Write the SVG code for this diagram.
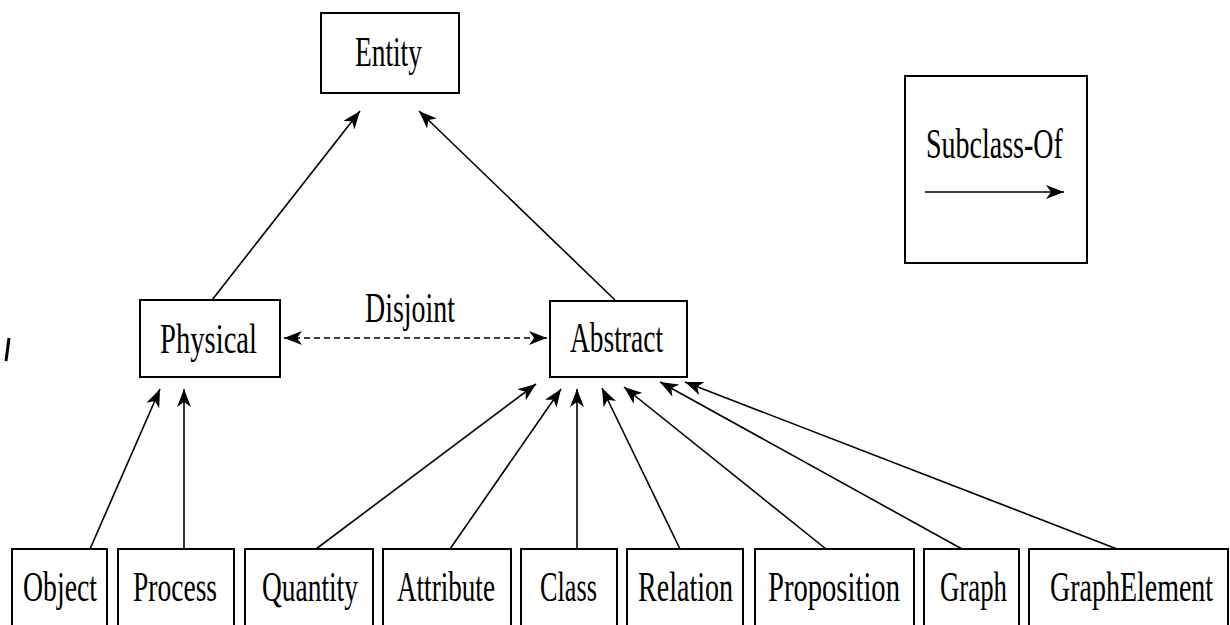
<svg xmlns="http://www.w3.org/2000/svg" width="1230" height="625" viewBox="0 0 1230 625">
  <style>
    .box { fill: #ffffff; stroke: #000000; stroke-width: 2; }
    .lbl { font-family: "Liberation Serif", "Times New Roman", serif; font-size: 42px; fill: #000000; }
    .edge { fill: none; stroke: #000000; stroke-width: 1.6; }
    .dash { stroke-dasharray: 6 4; }
  </style>
  <defs>
    <marker id="head" viewBox="0 0 18 14" refX="18" refY="7" markerWidth="18" markerHeight="14" markerUnits="userSpaceOnUse" orient="auto-start-reverse">
      <path d="M0,0 L18,7 L0,14 L5,7 Z" fill="#000000"/>
    </marker>
  </defs>
  <rect width="1230" height="625" fill="#ffffff"/>

  <!-- subclass and disjointness links -->
  <g id="connectors">
    <path class="edge" d="M212,300 L360,111" marker-end="url(#head)"/>
    <path class="edge" d="M615,300 L419,111" marker-end="url(#head)"/>
    <path class="edge dash" d="M284,338 L547,338" marker-start="url(#head)" marker-end="url(#head)"/>
    <path class="edge" d="M90,549 L160,389" marker-end="url(#head)"/>
    <path class="edge" d="M184,549 L184,389" marker-end="url(#head)"/>
    <path class="edge" d="M316,549 L536,384" marker-end="url(#head)"/>
    <path class="edge" d="M450,549 L561,389" marker-end="url(#head)"/>
    <path class="edge" d="M577,549 L577,389" marker-end="url(#head)"/>
    <path class="edge" d="M680,549 L602,388" marker-end="url(#head)"/>
    <path class="edge" d="M826,549 L624,387" marker-end="url(#head)"/>
    <path class="edge" d="M962,549 L660,382" marker-end="url(#head)"/>
    <path class="edge" d="M1117,549 L685,382" marker-end="url(#head)"/>
    <text class="lbl" transform="translate(365,322) scale(0.665,1)">Disjoint</text>
  </g>

  <g id="entity">
    <rect class="box" x="321" y="13" width="138" height="80"/>
    <text class="lbl" transform="translate(355,66) scale(0.652,1)">Entity</text>
  </g>
  <g id="physical">
    <rect class="box" x="140" y="300" width="140" height="77"/>
    <text class="lbl" transform="translate(160,353) scale(0.682,1)">Physical</text>
  </g>
  <g id="abstract">
    <rect class="box" x="550" y="301" width="137" height="76"/>
    <text class="lbl" transform="translate(570,352) scale(0.654,1)">Abstract</text>
  </g>

  <g id="object">
    <rect class="box" x="12" y="549" width="95" height="90"/>
    <text class="lbl" transform="translate(23,601) scale(0.661,1)">Object</text>
  </g>
  <g id="process">
    <rect class="box" x="118" y="549" width="116" height="90"/>
    <text class="lbl" transform="translate(133,601) scale(0.655,1)">Process</text>
  </g>
  <g id="quantity">
    <rect class="box" x="245" y="549" width="128" height="90"/>
    <text class="lbl" transform="translate(262,601) scale(0.653,1)">Quantity</text>
  </g>
  <g id="attribute">
    <rect class="box" x="383" y="549" width="128" height="90"/>
    <text class="lbl" transform="translate(397,601) scale(0.646,1)">Attribute</text>
  </g>
  <g id="class">
    <rect class="box" x="521" y="549" width="96" height="90"/>
    <text class="lbl" transform="translate(540,601) scale(0.626,1)">Class</text>
  </g>
  <g id="relation">
    <rect class="box" x="627" y="549" width="116" height="90"/>
    <text class="lbl" transform="translate(638,601) scale(0.668,1)">Relation</text>
  </g>
  <g id="proposition">
    <rect class="box" x="755" y="549" width="159" height="90"/>
    <text class="lbl" transform="translate(768,601) scale(0.681,1)">Proposition</text>
  </g>
  <g id="graph">
    <rect class="box" x="924" y="549" width="95" height="90"/>
    <text class="lbl" transform="translate(940,601) scale(0.638,1)">Graph</text>
  </g>
  <g id="graphelement">
    <rect class="box" x="1029" y="549" width="199" height="90"/>
    <text class="lbl" transform="translate(1050,601) scale(0.666,1)">GraphElement</text>
  </g>

  <!-- key -->
  <g id="legend">
    <rect class="box" x="905" y="76" width="182" height="187"/>
    <text class="lbl" transform="translate(926,158) scale(0.667,1)">Subclass-Of</text>
    <path class="edge" d="M925,192 L1064,192" stroke-width="2" marker-end="url(#head)"/>
  </g>

  <!-- stray tick at the left margin -->
  <path d="M6,361 L9,338" stroke="#000000" stroke-width="3" fill="none"/>
</svg>
